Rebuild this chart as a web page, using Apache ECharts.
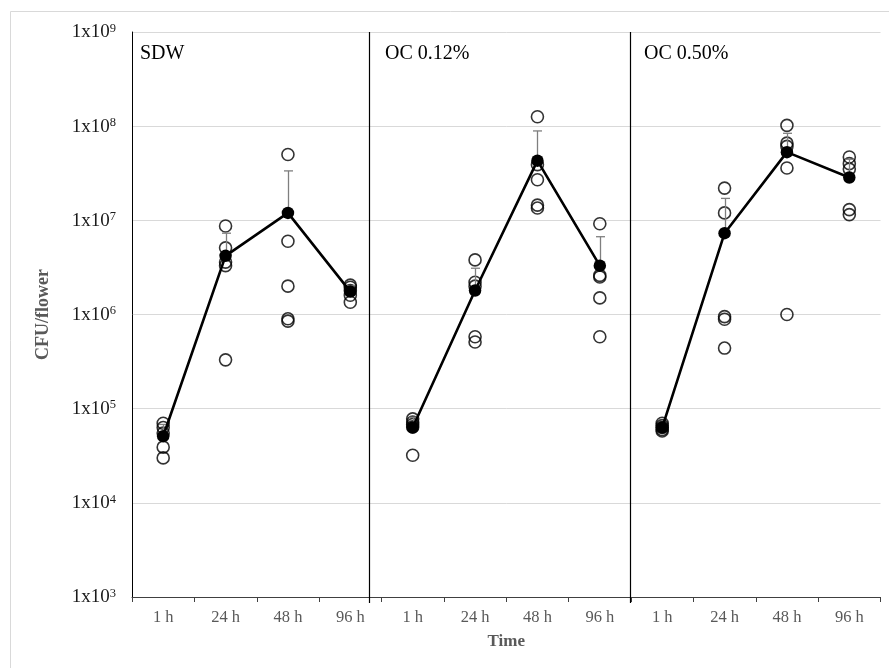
<!DOCTYPE html>
<html>
<head>
<meta charset="utf-8">
<script src="https://cdn.jsdelivr.net/npm/echarts@6/dist/echarts.min.js"></script>
<style>
  html, body { margin: 0; padding: 0; background: #fff; }
  #chart { width: 889px; height: 668px; }
</style>
</head>
<body>
<div id="chart"></div>
<script>
// Treatments (one panel each) and sampling times
const panels = ['SDW', 'OC 0.12%', 'OC 0.50%'];
const times = ['1 h', '24 h', '48 h', '96 h'];
const yExponents = [3, 4, 5, 6, 7, 8, 9];

// Individual flower counts (CFU/flower), five replicates per time
const sdwReps = [
  [7.0e4, 6.3e4, 5.5e4, 3.9e4, 3.0e4],
  [8.7e6, 5.1e6, 3.6e6, 3.3e6, 3.3e5],
  [5.0e7, 6.0e6, 2.0e6, 9.0e5, 8.5e5],
  [2.05e6, 1.95e6, 1.8e6, 1.6e6, 1.35e6]
];
const oc12Reps = [
  [7.8e4, 7.2e4, 6.8e4, 6.4e4, 3.2e4],
  [3.8e6, 2.2e6, 2.0e6, 5.8e5, 5.1e5],
  [1.26e8, 3.9e7, 2.7e7, 1.45e7, 1.35e7],
  [9.2e6, 2.6e6, 2.5e6, 1.5e6, 5.8e5]
];
const oc50Reps = [
  [7.0e4, 6.6e4, 6.3e4, 6.0e4, 5.8e4],
  [2.2e7, 1.2e7, 9.5e5, 8.9e5, 4.4e5],
  [1.02e8, 6.6e7, 6.1e7, 3.6e7, 1.0e6],
  [4.7e7, 4.0e7, 3.5e7, 1.3e7, 1.15e7]
];

// Means and standard deviations (upper error bar)
const sdwMean = [5.1e4, 4.2e6, 1.2e7, 1.75e6];
const sdwSd = [1.7e4, 3.1e6, 2.15e7, 2.7e5];
const oc12Mean = [6.3e4, 1.8e6, 4.3e7, 3.3e6];
const oc12Sd = [1.8e4, 1.3e6, 4.6e7, 3.4e6];
const oc50Mean = [6.3e4, 7.3e6, 5.3e7, 2.85e7];
const oc50Sd = [5.0e3, 9.8e6, 3.1e7, 1.6e7];

const repsByPanel = [sdwReps, oc12Reps, oc50Reps];
const meanByPanel = [sdwMean, oc12Mean, oc50Mean];
const sdByPanel = [sdwSd, oc12Sd, oc50Sd];

const SERIF = '"Liberation Serif", "Times New Roman", serif';
const categories = panels.flatMap(() => times);

// Replicate points as open circles
const repPoints = [];
repsByPanel.forEach((reps, p) => {
  reps.forEach((vals, t) => {
    vals.forEach(v => repPoints.push([p * times.length + t, v]));
  });
});

// Error bar data [category, mean, sd]
const errData = [];
meanByPanel.forEach((means, p) => {
  means.forEach((m, t) => errData.push([p * times.length + t, m, sdByPanel[p][t]]));
});

// Mean lines, one per panel
const meanSeries = meanByPanel.map((means, p) => ({
  type: 'line',
  name: panels[p],
  xAxisIndex: 0,
  yAxisIndex: 0,
  z: 5,
  data: means.map((m, t) => [p * times.length + t, m]),
  symbol: 'circle',
  symbolSize: 12.5,
  itemStyle: { color: '#000', borderColor: '#000', borderWidth: 0 },
  lineStyle: { color: '#000', width: 2.6 },
  emphasis: { disabled: true },
  animation: false
}));

const chart = echarts.init(document.getElementById('chart'), null, { renderer: 'canvas' });

chart.setOption({
  backgroundColor: '#fff',
  animation: false,
  grid: { left: 132, right: 8.5, top: 32, bottom: 71, containLabel: false },
  xAxis: [
    {
      type: 'category',
      data: categories,
      boundaryGap: true,
      axisLine: { lineStyle: { color: '#404040', width: 1 } },
      axisTick: { show: true, length: 5, alignWithLabel: false, lineStyle: { color: '#404040' } },
      axisLabel: { color: '#595959', fontFamily: SERIF, fontSize: 16.5, margin: 12, interval: 0 },
      splitLine: { show: false },
      name: 'Time',
      nameLocation: 'middle',
      nameGap: 36,
      nameTextStyle: { color: '#595959', fontFamily: SERIF, fontSize: 17, fontWeight: 'bold' }
    },
    {
      // slot-based axis used for panel divider lines
      type: 'value',
      min: 0,
      max: 12,
      show: false
    }
  ],
  yAxis: [{
    type: 'log',
    logBase: 10,
    min: 1e3,
    max: 1e9,
    axisLine: { show: true, lineStyle: { color: '#000', width: 1 } },
    axisTick: { show: false },
    splitLine: { show: true, lineStyle: { color: '#d9d9d9', width: 1 } },
    axisLabel: {
      margin: 16,
      formatter: v => {
        const e = Math.round(Math.log10(v));
        return yExponents.includes(e) ? '{b|1x10}{s|' + e + '}' : '';
      },
      rich: {
        b: { fontFamily: SERIF, fontSize: 19, color: '#1a1a1a', verticalAlign: 'bottom' },
        s: { fontFamily: SERIF, fontSize: 12.5, color: '#1a1a1a', verticalAlign: 'bottom', padding: [0, 0, 7, 0] }
      }
    },
    name: 'CFU/flower',
    nameLocation: 'middle',
    nameGap: 80,
    nameRotate: 90,
    nameTextStyle: { color: '#595959', fontFamily: SERIF, fontSize: 18, fontWeight: 'bold' }
  }],
  graphic: [
    {
      type: 'rect',
      z: -10,
      silent: true,
      shape: { x: 10.5, y: 11.5, width: 900, height: 700 },
      style: { fill: 'none', stroke: '#d9d9d9', lineWidth: 1 }
    },
    { type: 'text', left: 140, top: 44, style: { text: panels[0], font: '20px ' + SERIF, fill: '#000' } },
    { type: 'text', left: 385, top: 44, style: { text: panels[1], font: '20px ' + SERIF, fill: '#000' } },
    { type: 'text', left: 644, top: 44, style: { text: panels[2], font: '20px ' + SERIF, fill: '#000' } }
  ],
  series: [
    {
      // panel dividers
      type: 'custom',
      xAxisIndex: 1,
      yAxisIndex: 0,
      z: 1,
      silent: true,
      data: [[3.8], [7.98]],
      renderItem: (params, api) => {
        const top = api.coord([api.value(0), 1e9]);
        const bot = api.coord([api.value(0), 1e3]);
        return {
          type: 'line',
          shape: { x1: Math.round(top[0]) + 0.5, y1: top[1], x2: Math.round(top[0]) + 0.5, y2: bot[1] + 6 },
          style: { stroke: '#000', lineWidth: 1.2 }
        };
      }
    },
    {
      type: 'scatter',
      xAxisIndex: 0,
      yAxisIndex: 0,
      z: 3,
      data: repPoints,
      symbol: 'circle',
      symbolSize: 12,
      itemStyle: { color: 'rgba(255,255,255,0)', borderColor: '#000', borderWidth: 1.6 },
      emphasis: { disabled: true }
    },
    {
      type: 'custom',
      xAxisIndex: 0,
      yAxisIndex: 0,
      z: 4,
      silent: true,
      data: errData,
      renderItem: (params, api) => {
        const x = api.value(0);
        const m = api.value(1);
        const s = api.value(2);
        const a = api.coord([x, m]);
        const b = api.coord([x, m + s]);
        const cx = Math.round(a[0]) + 0.5;
        const stroke = { stroke: '#7f7f7f', lineWidth: 1.3 };
        return {
          type: 'group',
          children: [
            { type: 'line', shape: { x1: cx, y1: a[1], x2: cx, y2: b[1] }, style: stroke },
            { type: 'line', shape: { x1: cx - 4.5, y1: b[1], x2: cx + 4.5, y2: b[1] }, style: stroke }
          ]
        };
      }
    },
    ...meanSeries
  ]
});
</script>
</body>
</html>
